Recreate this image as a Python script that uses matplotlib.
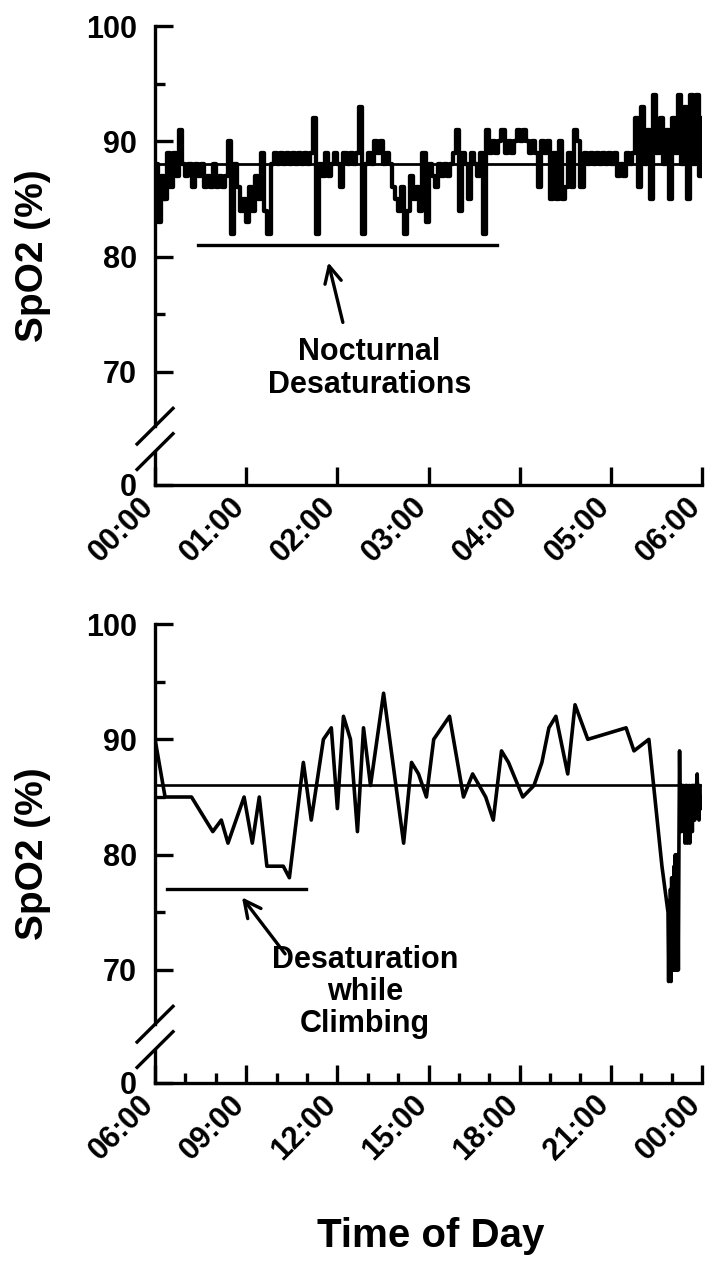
"""Pulse oximetry trace: nocturnal desaturations (top) and daytime climbing (bottom)."""

import numpy as np
import matplotlib.pyplot as plt
import matplotlib.transforms as mtransforms

plt.rcParams['font.family'] = ['Liberation Sans', 'DejaVu Sans']
plt.rcParams['font.weight'] = 'bold'

# ---------------------------------------------------------------------------
# Data
# ---------------------------------------------------------------------------

# Night recording, one reading every 2 minutes starting 00:00
NIGHT_STEP_MIN = 2
NIGHT_SPO2 = [
    # 00:00 - 01:00
    88, 83, 87, 85, 89, 86, 89, 87, 91, 88, 87, 88, 86, 88, 87,
    88, 86, 87, 86, 88, 86, 87, 86, 87, 90, 82, 88, 86, 84, 85,
    # 01:00 - 02:00
    83, 86, 84, 87, 85, 89, 84, 82, 88, 89, 88, 89, 88, 89, 88,
    89, 88, 89, 88, 89, 88, 89, 92, 82, 88, 87, 89, 87, 88, 89,
    # 02:00 - 03:00
    88, 86, 89, 88, 89, 88, 89, 93, 82, 88, 89, 88, 90, 89, 90,
    88, 89, 88, 86, 85, 84, 86, 82, 84, 87, 85, 86, 84, 89, 83,
    # 03:00 - 04:00
    88, 87, 86, 88, 87, 88, 87, 88, 89, 91, 84, 89, 88, 85, 89,
    88, 87, 89, 82, 91, 89, 90, 89, 90, 91, 89, 90, 89, 90, 91,
    # 04:00 - 05:00
    90, 91, 90, 89, 90, 89, 86, 90, 89, 90, 85, 89, 85, 90, 85,
    86, 89, 86, 91, 90, 86, 89, 88, 89, 88, 89, 88, 89, 88, 89,
    # 05:00 - 06:00
    88, 89, 87, 88, 87, 89, 88, 89, 92, 86, 93, 88, 91, 85, 94,
    89, 92, 88, 91, 85, 92, 89, 94, 88, 93, 85, 94, 88, 94, 87, 92,
]
NIGHT_MEAN = 88
NIGHT_EVENT = (0.47, 3.75, 81)          # start h, end h, level
NIGHT_ARROW = ((1.90, 79.5), (2.06, 74.3))
NIGHT_TEXT = (2.35, 70.3, "Nocturnal\nDesaturations")

# Day recording, hours since midnight
DAY_HOURS = [
    6.0, 6.33, 7.2, 7.9, 8.18, 8.4, 8.93, 9.2, 9.43, 9.68, 10.22, 10.42,
    10.88, 11.14, 11.54, 11.8, 12.0, 12.2, 12.43, 12.66, 12.86, 13.09,
    13.52, 14.18, 14.44, 14.67, 14.93, 15.17, 15.69, 16.15, 16.45, 16.88,
    17.13, 17.4, 17.63, 18.1, 18.47, 18.73, 18.96, 19.19, 19.58, 19.82,
    20.24, 21.5, 21.76, 22.25, 22.68, 22.88,
    22.90, 22.92, 22.94, 22.96, 22.98, 23.00, 23.02, 23.04, 23.06, 23.08,
    23.10, 23.12, 23.14, 23.16, 23.18, 23.20, 23.22, 23.24, 23.26,
    23.28, 23.30, 23.32, 23.34, 23.36, 23.38, 23.40, 23.42, 23.44, 23.46,
    23.48, 23.50, 23.52, 23.54, 23.56, 23.58, 23.60, 23.62, 23.64, 23.66,
    23.68, 23.70, 23.72, 23.74, 23.76, 23.78, 23.80, 23.82, 23.84, 23.86,
    23.88, 23.90, 23.92, 23.94, 23.96, 23.98, 24.0,
]
DAY_SPO2 = [
    90, 85, 85, 82, 83, 81, 85, 81, 85, 79, 79, 78,
    88, 83, 90, 91, 84, 92, 90, 82, 91, 86,
    94, 81, 88, 87, 85, 90, 92, 85, 87, 85,
    83, 89, 88, 85, 86, 88, 91, 92, 87, 93,
    90, 91, 89, 90, 79, 75,
    69, 76, 70, 77, 69, 78, 70, 78, 70, 79,
    70, 80, 70, 80, 70, 80, 70, 81, 89,
    84, 86, 82, 86, 83, 86, 82, 85, 81, 86,
    83, 86, 81, 85, 82, 86, 81, 85, 83, 86,
    82, 86, 84, 86, 83, 85, 84, 86, 87, 84,
    86, 83, 86, 84, 85, 84, 85,
]
DAY_MEAN = 86
DAY_EVENT = (6.38, 10.97, 77)
DAY_ARROW = ((8.86, 76.3), (10.28, 71.4))
DAY_TEXT = (12.91, 68.1, "Desaturation\nwhile\nClimbing")

NIGHT_TICKS = [0, 1, 2, 3, 4, 5, 6]
NIGHT_LABELS = ["00:00", "01:00", "02:00", "03:00", "04:00", "05:00", "06:00"]
DAY_TICKS = [6, 9, 12, 15, 18, 21, 24]
DAY_LABELS = ["06:00", "09:00", "12:00", "15:00", "18:00", "21:00", "00:00"]

# broken y axis: "0" is drawn just under the 60s
Y_FLOOR = 60.2
BREAK_HI = 65.3
BREAK_LO = 63.1

LW = 2.4


def style_axis(ax, xlim, major, labels, minor=None):
    ax.set_xlim(*xlim)
    ax.set_ylim(Y_FLOOR, 100)
    for side in ("top", "right", "left"):
        ax.spines[side].set_visible(False)
    ax.spines["bottom"].set_linewidth(LW)

    ax.set_yticks([Y_FLOOR, 70, 80, 90, 100], ["0", "70", "80", "90", "100"])
    ax.set_yticks([75, 85, 95], minor=True)
    ax.set_xticks(major, labels)
    if minor is not None:
        ax.set_xticks(minor, minor=True)

    ax.tick_params(which="major", direction="in", length=13, width=LW,
                   labelsize=22)
    ax.tick_params(which="minor", direction="in", length=7, width=LW)
    ax.tick_params(axis="y", pad=13)
    ax.tick_params(axis="x", pad=8)
    shift = mtransforms.ScaledTranslation(-0.06, -0.06, ax.figure.dpi_scale_trans)
    for lbl in ax.get_xticklabels():
        lbl.set_rotation(45)
        lbl.set_ha("right")
        lbl.set_va("center")
        lbl.set_rotation_mode("anchor")
        lbl.set_transform(lbl.get_transform() + shift)

    # left spine drawn by hand, with a gap and two break marks
    tr = mtransforms.blended_transform_factory(ax.transAxes, ax.transData)
    ax.plot([0, 0], [BREAK_HI, 100], transform=tr, color="k", lw=LW,
            clip_on=False, solid_capstyle="projecting")
    ax.plot([0, 0], [Y_FLOOR, BREAK_LO], transform=tr, color="k", lw=LW,
            clip_on=False, solid_capstyle="projecting")
    dx = 0.035
    dy = 1.65
    for yb in (BREAK_HI, BREAK_LO):
        ax.plot([-dx, dx], [yb - dy, yb + dy], transform=tr, color="k",
                lw=LW, clip_on=False, solid_capstyle="butt")

    ax.set_ylabel("SpO2 (%)", fontsize=28, fontweight="bold")
    ax.yaxis.set_label_coords(-0.19, 0.5)


def mark_event(ax, event, arrow, text):
    x0, x1, level = event
    ax.plot([x0, x1], [level, level], color="k", lw=LW)
    tip, tail = arrow
    ax.annotate("", xy=tip, xytext=tail,
                arrowprops=dict(arrowstyle="->", color="k", lw=2.4,
                                mutation_scale=30, shrinkA=0, shrinkB=0))
    tx, ty, s = text
    ax.text(tx, ty, s, ha="center", va="center", multialignment="center",
            fontsize=22, linespacing=1.1)


def main():
    fig = plt.figure(figsize=(7.08, 12.64), dpi=100)
    left, width, height = 0.219, 0.7726, 0.3631
    ax1 = fig.add_axes([left, 0.6163, width, height])
    ax2 = fig.add_axes([left, 0.1432, width, height])

    # night
    t_night = np.arange(len(NIGHT_SPO2)) * NIGHT_STEP_MIN / 60.0
    ax1.plot(t_night, NIGHT_SPO2, drawstyle="steps-post", color="k", lw=3.1)
    ax1.axhline(NIGHT_MEAN, color="k", lw=2.0)
    style_axis(ax1, (0, 6), NIGHT_TICKS, NIGHT_LABELS)
    mark_event(ax1, NIGHT_EVENT, NIGHT_ARROW, NIGHT_TEXT)

    # day
    ax2.plot(DAY_HOURS, DAY_SPO2, color="k", lw=2.6)
    ax2.axhline(DAY_MEAN, color="k", lw=1.9)
    style_axis(ax2, (6, 24), DAY_TICKS, DAY_LABELS,
               minor=[h for h in range(6, 25) if h % 3])
    mark_event(ax2, DAY_EVENT, DAY_ARROW, DAY_TEXT)

    fig.text(431 / 708, 1 - 1236 / 1264, "Time of Day", ha="center",
             va="center", fontsize=29)

    fig.savefig("out.png", dpi=100)
    plt.close(fig)


if __name__ == "__main__":
    main()
